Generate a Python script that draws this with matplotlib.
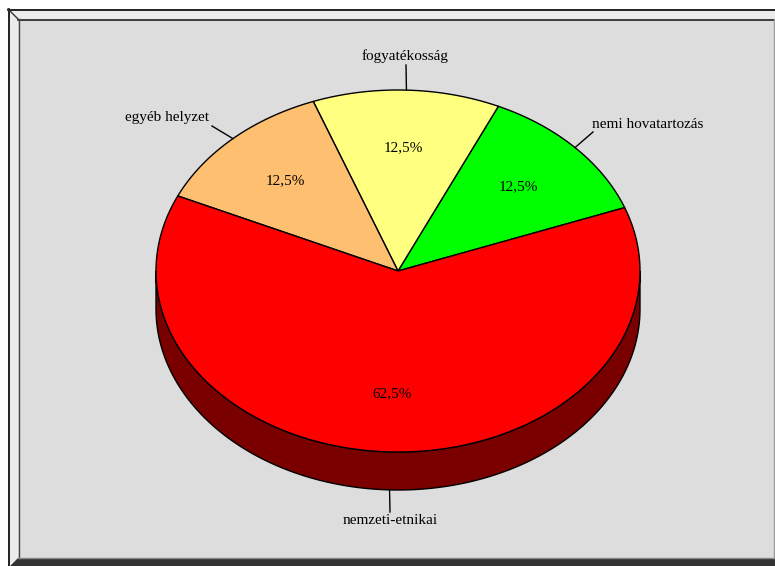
import numpy as np
import matplotlib
matplotlib.use("Agg")
import matplotlib.pyplot as plt
from matplotlib.patches import Polygon, Rectangle
from matplotlib.colors import to_rgb

# Share of cases by ground of discrimination
categories = ["nemi hovatartozás", "fogyatékosság", "egyéb helyzet", "nemzeti-etnikai"]
values = [12.5, 12.5, 12.5, 62.5]
colors = ["#00FF00", "#FFFF80", "#FFBF70", "#FF0000"]
pct_labels = ["12,5%", "12,5%", "12,5%", "62,5%"]

W, H = 775, 566
fig = plt.figure(figsize=(W / 100, H / 100), dpi=100)
fig.patch.set_facecolor("white")
ax = fig.add_axes([0, 0, 1, 1])
ax.set_xlim(0, W)
ax.set_ylim(H, 0)
ax.axis("off")

# --- chart frame with bevel ---
ax.add_patch(Polygon([(8, 9), (775, 9), (775, 19), (18, 19), (18, 558), (8, 566)],
                     closed=True, facecolor="#EBEBEB", edgecolor="none", zorder=0))
ax.add_patch(Rectangle((18, 19), 757, 539, facecolor="#DDDDDD", edgecolor="none", zorder=0))
ax.add_patch(Polygon([(18, 558), (775, 558), (775, 566), (10, 566)],
                     closed=True, facecolor="#333333", edgecolor="none", zorder=0))
ax.plot([8, 775], [9.5, 9.5], color="black", lw=1.2, zorder=1)
ax.plot([8.5, 8.5], [9, 566], color="black", lw=1.2, zorder=1)
ax.plot([18, 775], [19.5, 19.5], color="#222222", lw=1.2, zorder=1)
ax.plot([18.5, 18.5], [19, 558], color="#444444", lw=1.0, zorder=1)
ax.plot([8, 18], [9, 19], color="#333333", lw=1.0, zorder=1)
ax.plot([18, 775], [558, 558], color="#888888", lw=1.0, zorder=1)
ax.plot([774, 774], [19, 558], color="#999999", lw=1.0, zorder=1)

# --- 3D pie geometry ---
cx, cy = 398, 271          # centre of top face
a, b = 242, 181            # semi-axes of top face
depth = 38                 # thickness of the pie
start = 20.5               # angle where the first slice begins (degrees, ccw)


def pt(theta_deg, dz=0.0, r=1.0):
    t = np.radians(theta_deg)
    return cx + r * a * np.cos(t), cy - r * b * np.sin(t) + dz


fracs = np.array(values) / np.sum(values)
bounds = start + np.concatenate([[0], np.cumsum(fracs) * 360])

# side walls (front half only: 180..360 deg)
for i in range(len(values)):
    t0, t1 = bounds[i], bounds[i + 1]
    for shift in (0, 360, -360):
        lo = max(t0 + shift, 180)
        hi = min(t1 + shift, 360)
        if hi > lo:
            ts = np.linspace(lo, hi, 200)
            top = [pt(t) for t in ts]
            bot = [pt(t, depth) for t in ts[::-1]]
            side = np.array(to_rgb(colors[i])) * 0.48
            ax.add_patch(Polygon(top + bot, closed=True, facecolor=side,
                                 edgecolor="black", lw=1.0, zorder=2))

# top faces
for i in range(len(values)):
    ts = np.linspace(bounds[i], bounds[i + 1], 300)
    verts = [(cx, cy)] + [pt(t) for t in ts]
    ax.add_patch(Polygon(verts, closed=True, facecolor=colors[i],
                         edgecolor="black", lw=1.0, zorder=3))

# --- labels ---
font = dict(family="Liberation Serif", fontsize=11, color="black")
label_pos = [(648, 124), (405, 56), (167, 118), (390, 521)]
leader_end = [(593, 132), (406, 65), (212, 126), (390, 512)]
for i in range(len(values)):
    mid = (bounds[i] + bounds[i + 1]) / 2
    px, py = pt(mid)
    if np.sin(np.radians(mid)) < 0:
        py += depth
    ax.plot([px, leader_end[i][0]], [py, leader_end[i][1]],
            color="black", lw=1.0, zorder=4)
    ax.text(*label_pos[i], categories[i], ha="center", va="center", zorder=5, **font)
    lx, ly = pt(mid, r=0.68)
    ax.text(lx, ly, pct_labels[i], ha="center", va="center", zorder=5, **font)

fig.savefig("out.png", dpi=100, facecolor=fig.get_facecolor())
